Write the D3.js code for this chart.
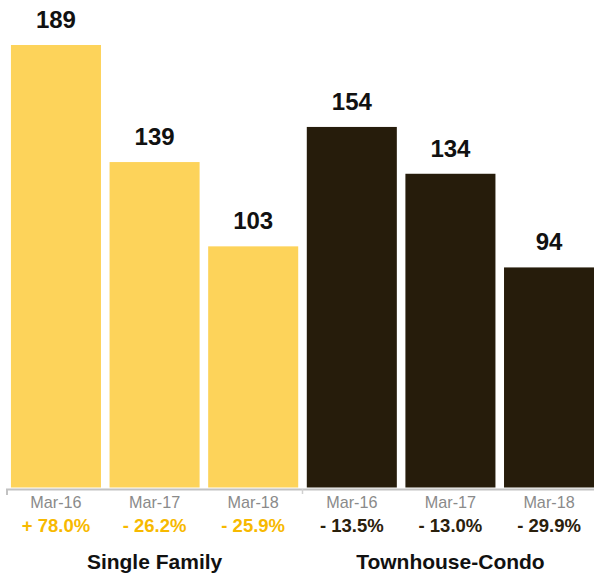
<!DOCTYPE html>
<html><head><meta charset="utf-8">
<script src="https://cdn.jsdelivr.net/npm/d3@7"></script>
<style>body{margin:0;background:#fff}svg{display:block;font-family:"Liberation Sans",Arial,Helvetica,sans-serif}</style>
</head><body><svg id="c" width="594" height="578"></svg>
<script>
const groups = ["Single Family", "Townhouse-Condo"];
const periods = ["Mar-16", "Mar-17", "Mar-18"];
const singleFamily = [189, 139, 103];
const townhouse = [154, 134, 94];
const singleChange = ["+ 78.0%", "- 26.2%", "- 25.9%"];
const townChange = ["- 13.5%", "- 13.0%", "- 29.9%"];
const barColors = ["#FDD35A", "#261C0B"];
const pctColors = ["#F7B900", "#2A200C"];

const rows = [];
[singleFamily, townhouse].forEach((vals, g) => {
  vals.forEach((v, i) => rows.push({key: g + "-" + i, g, period: periods[i], value: v,
    change: (g === 0 ? singleChange : townChange)[i]}));
});

const svg = d3.select("#c");
const yBase = 487.5;
const x = d3.scaleBand().domain(rows.map(d => d.key)).range([6.5, 598.5]).paddingInner(0.087).paddingOuter(0.045);
const y = d3.scaleLinear().domain([0, 189]).range([yBase, 45]);

svg.selectAll("rect.bar").data(rows).enter().append("rect")
  .attr("class", "bar")
  .attr("x", d => x(d.key)).attr("width", x.bandwidth())
  .attr("y", d => y(d.value)).attr("height", d => yBase - y(d.value))
  .attr("fill", d => barColors[d.g]);

// axis line
svg.append("line").attr("x1", 6).attr("x2", 594).attr("y1", 489.5).attr("y2", 489.5)
  .attr("stroke", "#c2c2c2").attr("stroke-width", 2);
svg.append("line").attr("x1", 7).attr("x2", 7).attr("y1", 489).attr("y2", 495)
  .attr("stroke", "#c2c2c2").attr("stroke-width", 2);
svg.append("line").attr("x1", 302.5).attr("x2", 302.5).attr("y1", 489).attr("y2", 494)
  .attr("stroke", "#d0d0d0").attr("stroke-width", 1.5);

const cx = d => x(d.key) + x.bandwidth() / 2;

svg.selectAll("text.val").data(rows).enter().append("text")
  .attr("x", cx).attr("y", d => y(d.value) - 17)
  .attr("text-anchor", "middle").attr("font-weight", "bold").attr("font-size", 24)
  .attr("fill", "#111").text(d => d.value);

svg.selectAll("text.per").data(rows).enter().append("text")
  .attr("x", cx).attr("y", 507.5)
  .attr("text-anchor", "middle").attr("font-size", 16.2)
  .attr("fill", "#8a8a8a").text(d => d.period);

svg.selectAll("text.chg").data(rows).enter().append("text")
  .attr("x", cx).attr("y", 532)
  .attr("text-anchor", "middle").attr("font-weight", "bold").attr("font-size", 18.5)
  .attr("fill", d => pctColors[d.g]).text(d => d.change);

groups.forEach((gname, g) => {
  const mid = x(g + "-1") + x.bandwidth() / 2;
  svg.append("text").attr("x", mid).attr("y", 568.5)
    .attr("text-anchor", "middle").attr("font-weight", "bold").attr("font-size", 21)
    .attr("fill", "#111").text(gname);
});
</script></body></html>
